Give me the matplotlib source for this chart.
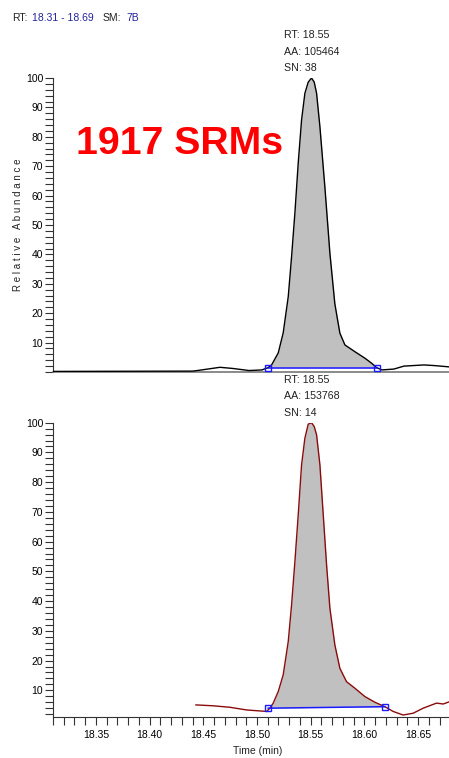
import matplotlib
matplotlib.use("Agg")
import matplotlib.pyplot as plt
import numpy as np
from matplotlib.ticker import MultipleLocator

plt.rcParams['font.family'] = ['Liberation Sans', 'DejaVu Sans']

# ---- data ----
top_time = [18.310, 18.440, 18.4465, 18.4655, 18.4776, 18.4925, 18.5046, 18.5104,
            18.5136, 18.5198, 18.5244, 18.5291, 18.5322, 18.5353, 18.5384, 18.5415,
            18.5446, 18.5477, 18.5508, 18.5533, 18.5555, 18.5586, 18.5632, 18.5679,
            18.5725, 18.5772, 18.5819, 18.5912, 18.6005, 18.6067, 18.6114, 18.6163,
            18.6275, 18.6368, 18.6554, 18.6647, 18.6740, 18.6833, 18.690]
top_vals = [0.2, 0.3, 0.6, 1.6, 1.2, 0.5, 0.7, 1.5,
            2.4, 6.5, 13.3, 25.6, 39.2, 54.1, 71.1, 85.7,
            94.8, 98.6, 100.0, 98.6, 94.8, 83.4, 63.0, 40.4,
            23.2, 13.2, 9.2, 6.9, 4.7, 3.0, 1.5, 0.7,
            1.0, 2.0, 2.4, 2.2, 1.9, 1.6, 1.5]
top_base_time = [18.5104, 18.6117]
top_base_vals = [1.4, 1.4]

bot_time = [18.4431, 18.4592, 18.4748, 18.4903, 18.5090, 18.5120, 18.5151, 18.5198,
            18.5244, 18.5291, 18.5322, 18.5353, 18.5384, 18.5415, 18.5446, 18.5477,
            18.5508, 18.5533, 18.5555, 18.5586, 18.5617, 18.5648, 18.5679, 18.5725,
            18.5772, 18.5834, 18.5912, 18.6005, 18.6098, 18.6191, 18.6268, 18.6361,
            18.6454, 18.6548, 18.6672, 18.6734, 18.6787, 18.690]
bot_vals = [5.1, 4.8, 4.3, 3.4, 2.9, 4.0, 5.7, 9.6,
            15.2, 26.4, 38.7, 53.3, 69.0, 85.8, 94.8, 99.5,
            100.0, 98.7, 95.9, 85.8, 69.0, 52.2, 37.6, 25.3,
            17.4, 12.9, 10.7, 7.9, 6.0, 4.5, 2.9, 1.7,
            2.3, 4.0, 5.7, 5.4, 6.1, 6.0]
bot_base_time = [18.5104, 18.6191]
bot_base_vals = [4.0, 4.5]

x_range = (18.31, 18.69)
top_ann = ["RT: 18.55", "AA: 105464", "SN: 38"]
bot_ann = ["RT: 18.55", "AA: 153768", "SN: 14"]

W, H = 449, 758
fig = plt.figure(figsize=(W / 100, H / 100), dpi=100)

def fx(px):
    return px / W

def fy(py):
    return 1 - py / H

ax1 = fig.add_axes([fx(53), fy(372), 408 / W, 294 / H])
ax2 = fig.add_axes([fx(53), fy(716.5), 408 / W, 293.8 / H])

blue = '#1a1aff'
grey_fill = '#c0c0c0'

def draw(ax, t, v, bt, bv, color):
    t = np.asarray(t)
    v = np.asarray(v)
    mask = (t >= bt[0] - 1e-9) & (t <= bt[1] + 1e-9)
    tt = t[mask]
    base = np.interp(tt, bt, bv)
    ax.fill_between(tt, v[mask], base, color=grey_fill, lw=0, zorder=1)
    ax.plot(t, v, color=color, lw=1.0, zorder=3)
    ax.plot(bt, bv, color=blue, lw=1.1, zorder=4)
    ax.plot(bt, bv, ls='none', marker='s', ms=4.5, mfc='none', mec=blue, mew=1.0, zorder=5)

draw(ax1, top_time, top_vals, top_base_time, top_base_vals, 'black')
draw(ax2, bot_time, bot_vals, bot_base_time, bot_base_vals, '#8b0a0a')

for ax in (ax1, ax2):
    ax.set_xlim(*x_range)
    ax.spines['top'].set_visible(False)
    ax.spines['right'].set_visible(False)
    ax.yaxis.set_major_locator(MultipleLocator(10))
    ax.yaxis.set_minor_locator(MultipleLocator(2))
    ax.tick_params(axis='y', which='both', direction='out', length=5.5, width=0.8,
                   color='#333333', labelsize=7.5, pad=1.5)
    ax.spines['left'].set_color('#333333')
    ax.set_yticks(np.arange(10, 101, 10))
    ax.set_yticklabels([str(v) for v in range(10, 101, 10)])
    ax.patch.set_alpha(0)

ax1.set_ylim(0, 100)
ax2.set_ylim(1.2, 100)

ax1.spines['bottom'].set_color('#777777')
ax1.spines['bottom'].set_linewidth(1.2)
ax1.tick_params(axis='x', which='both', bottom=False, labelbottom=False)

ax2.spines['bottom'].set_color('#333333')
ax2.xaxis.set_major_locator(MultipleLocator(0.05))
ax2.xaxis.set_minor_locator(MultipleLocator(0.01))
ax2.xaxis.set_major_formatter(matplotlib.ticker.FormatStrFormatter('%.2f'))
ax2.tick_params(axis='x', which='both', direction='out', length=6, width=0.8,
                color='#333333', labelsize=7.5, pad=4)

# labels
fig.text(fx(18), fy(225), "R e l a t i v e   A b u n d a n c e", rotation=90,
         ha='center', va='center', fontsize=7, color='#222222')
fig.text(fx(258), fy(751), "Time (min)", ha='center', va='center', fontsize=7.5,
         color='#222222')

# header
hdr_y = fy(18)
fig.text(fx(12), hdr_y, "RT:", ha='left', va='center', fontsize=7.5, color='#222222')
fig.text(fx(32), hdr_y, "18.31 - 18.69", ha='left', va='center', fontsize=7.5, color='#22229a')
fig.text(fx(103), hdr_y, "SM:", ha='left', va='center', fontsize=7.5, color='#222222')
fig.text(fx(126), hdr_y, "7B", ha='left', va='center', fontsize=7.5, color='#22229a')

# big title
fig.text(fx(76), fy(144), "1917 SRMs", ha='left', va='center', fontsize=28.3,
         fontweight='bold', color='#ff0000')

# peak annotations
for i, line in enumerate(top_ann):
    fig.text(fx(284), fy(35 + 16.7 * i), line, ha='left', va='center', fontsize=7.7,
             color='#222222')
for i, line in enumerate(bot_ann):
    fig.text(fx(284), fy(380 + 16.3 * i), line, ha='left', va='center', fontsize=7.7,
             color='#222222')

fig.savefig("out.png", dpi=100)
